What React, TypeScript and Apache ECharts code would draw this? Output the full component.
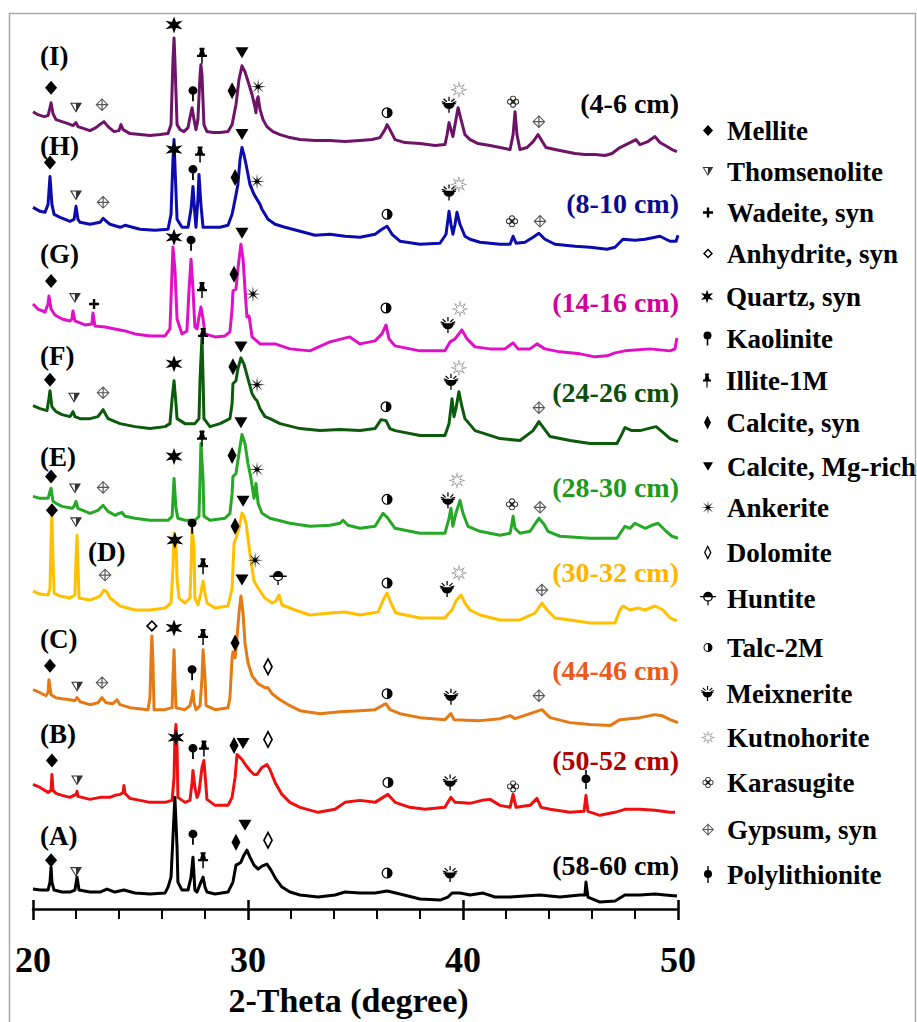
import React, { useEffect, useRef } from "react";
import * as echarts from "echarts";

type P = [number, number];

// ---------- DATA (2-Theta, intensity a.u., stacked) ----------
const traceI: P[] = [[20.00,800],[20.23,797],[20.51,795],[20.70,796],[20.79,804],[20.84,809],[20.93,798],[21.07,792],[21.35,790],[21.63,788],[21.86,786],[22.00,789],[22.09,785],[22.37,783],[22.65,781],[22.93,784],[23.16,788],[23.30,790],[23.49,785],[23.77,780],[24.00,781],[24.09,787],[24.19,782],[24.51,778],[24.98,777],[25.44,776],[25.91,777],[26.28,778],[26.42,787],[26.51,852],[26.56,874],[26.60,852],[26.70,787],[26.84,782],[27.02,780],[27.21,784],[27.30,794],[27.40,804],[27.49,792],[27.58,782],[27.67,792],[27.77,837],[27.81,847],[27.86,837],[27.95,787],[28.09,780],[28.37,779],[28.70,779],[29.07,780],[29.26,787],[29.35,797],[29.44,807],[29.58,832],[29.72,846],[29.86,840],[30.05,827],[30.19,817],[30.33,804],[30.37,799],[30.42,812],[30.47,815],[30.56,802],[30.70,792],[30.88,785],[31.16,780],[31.49,777],[31.95,774],[32.42,772],[33.12,771],[33.81,771],[34.51,770],[35.21,771],[35.77,772],[36.14,774],[36.37,782],[36.47,787],[36.60,782],[36.84,772],[37.30,769],[38.00,768],[38.70,766],[39.16,767],[39.26,777],[39.35,789],[39.44,782],[39.53,775],[39.63,787],[39.77,804],[39.91,792],[40.09,777],[40.33,772],[40.70,768],[41.26,766],[41.72,764],[42.19,762],[42.33,777],[42.42,800],[42.51,777],[42.65,762],[42.98,764],[43.26,770],[43.49,777],[43.63,772],[43.86,764],[44.28,762],[44.74,760],[45.21,758],[45.67,757],[46.14,757],[46.60,756],[46.93,758],[47.30,764],[47.77,769],[48.05,772],[48.23,767],[48.60,770],[48.93,775],[49.16,769],[49.49,765],[49.72,762],[49.95,760]];

const traceH: P[] = [[20.00,704],[20.33,700],[20.56,699],[20.70,707],[20.79,735],[20.88,707],[20.98,697],[21.26,694],[21.72,690],[21.91,692],[22.00,705],[22.09,692],[22.19,689],[22.65,687],[23.12,689],[23.26,693],[23.58,687],[24.05,684],[24.28,686],[24.98,682],[25.67,681],[26.28,682],[26.42,697],[26.51,752],[26.56,772],[26.60,747],[26.70,692],[26.93,684],[27.21,684],[27.35,702],[27.44,725],[27.53,697],[27.58,684],[27.67,712],[27.72,737],[27.81,707],[27.91,684],[28.23,684],[28.70,684],[29.07,686],[29.26,697],[29.40,712],[29.53,727],[29.63,752],[29.72,764],[29.81,757],[29.91,747],[30.09,727],[30.28,717],[30.42,712],[30.56,707],[30.65,702],[30.93,692],[31.26,687],[31.72,684],[32.42,680],[33.12,676],[33.81,677],[34.51,675],[35.21,674],[35.91,677],[36.23,682],[36.47,685],[36.70,677],[37.07,670],[38.00,667],[38.93,668],[39.21,677],[39.35,700],[39.44,687],[39.53,677],[39.63,687],[39.72,699],[39.86,687],[40.09,675],[40.33,672],[40.79,669],[41.72,667],[42.19,667],[42.33,675],[42.47,668],[42.88,669],[43.26,674],[43.53,678],[43.81,672],[44.28,667],[45.21,665],[45.91,664],[46.70,662],[47.07,664],[47.44,672],[48.00,671],[48.47,672],[49.16,675],[49.63,670],[49.91,670],[50.00,676]];

const traceG: P[] = [[20.00,607],[20.23,602],[20.56,599],[20.70,607],[20.74,615],[20.84,602],[21.02,596],[21.35,592],[21.72,590],[21.81,592],[21.86,600],[21.95,590],[22.42,586],[22.74,587],[22.79,598],[22.88,585],[23.35,584],[23.81,582],[24.28,580],[24.74,577],[25.44,575],[26.14,575],[26.37,582],[26.47,642],[26.51,664],[26.60,642],[26.70,592],[26.93,577],[27.16,580],[27.26,622],[27.35,652],[27.44,622],[27.53,584],[27.63,582],[27.72,594],[27.81,604],[27.91,592],[28.00,577],[28.47,574],[28.93,575],[29.16,579],[29.26,602],[29.30,620],[29.44,622],[29.53,642],[29.67,667],[29.77,652],[29.86,622],[29.95,594],[30.05,595],[30.19,574],[30.56,567],[31.26,567],[31.95,562],[32.88,560],[33.81,569],[34.74,574],[35.21,567],[35.91,570],[36.23,577],[36.42,586],[36.56,572],[36.84,565],[38.00,560],[39.16,560],[39.40,569],[39.63,572],[39.95,581],[40.19,572],[40.56,564],[41.26,562],[41.95,562],[42.33,568],[42.56,562],[43.12,562],[43.44,567],[43.81,562],[44.51,559],[45.44,557],[46.14,554],[46.70,555],[47.07,558],[47.53,560],[48.70,562],[49.63,560],[49.86,562],[49.95,573]];

const traceF: P[] = [[20.00,505],[20.33,502],[20.65,500],[20.74,512],[20.79,520],[20.88,504],[21.07,499],[21.35,496],[21.72,494],[21.86,499],[21.95,494],[22.19,492],[22.65,492],[23.02,494],[23.26,501],[23.49,492],[24.05,487],[24.74,484],[25.44,482],[26.14,484],[26.37,487],[26.47,512],[26.56,530],[26.65,507],[26.70,492],[27.07,487],[27.53,487],[27.72,492],[27.77,532],[27.86,574],[27.91,532],[27.95,492],[28.23,484],[28.70,487],[29.16,492],[29.26,507],[29.30,527],[29.44,530],[29.53,542],[29.67,553],[29.81,547],[30.00,532],[30.19,517],[30.33,512],[30.42,510],[30.56,502],[30.79,494],[31.02,492],[31.49,487],[32.42,482],[33.35,480],[34.28,481],[35.21,480],[35.91,482],[36.19,491],[36.42,490],[36.60,482],[36.84,480],[38.00,475],[39.16,475],[39.35,487],[39.49,512],[39.58,494],[39.67,502],[39.81,519],[39.95,504],[40.09,492],[40.56,480],[41.72,472],[42.65,470],[43.26,480],[43.53,489],[43.77,482],[44.05,474],[44.98,470],[45.91,467],[47.16,467],[47.40,477],[47.53,483],[47.86,480],[48.23,480],[48.60,482],[48.98,484],[49.26,479],[49.63,472],[50.00,469]];

const traceE: P[] = [[20.00,414],[20.33,412],[20.70,412],[20.79,419],[20.84,422],[20.93,409],[21.07,407],[21.35,404],[21.81,402],[21.91,404],[22.00,409],[22.09,402],[22.65,397],[23.02,400],[23.26,405],[23.49,399],[23.81,395],[24.00,397],[24.14,398],[24.28,394],[24.74,392],[25.44,390],[26.28,390],[26.47,394],[26.56,432],[26.65,402],[26.74,392],[27.07,390],[27.53,390],[27.72,394],[27.77,432],[27.81,467],[27.91,432],[27.95,394],[28.23,390],[28.93,392],[29.16,397],[29.26,417],[29.30,434],[29.44,437],[29.58,457],[29.72,476],[29.86,467],[30.00,447],[30.14,432],[30.28,412],[30.37,427],[30.47,407],[30.65,397],[31.02,392],[31.95,387],[32.88,384],[33.81,385],[34.28,387],[34.42,390],[34.65,385],[35.21,382],[35.91,384],[36.28,397],[36.51,392],[36.84,382],[38.00,377],[39.16,377],[39.35,392],[39.44,402],[39.53,384],[39.67,397],[39.86,410],[40.00,397],[40.23,384],[40.79,379],[41.72,375],[42.19,377],[42.28,387],[42.33,394],[42.42,382],[42.65,377],[43.12,379],[43.53,392],[43.77,386],[43.95,379],[44.51,374],[45.91,372],[47.16,372],[47.53,384],[47.77,382],[48.00,387],[48.47,382],[48.79,385],[49.07,387],[49.40,380],[49.72,374],[50.00,372]];

const traceD: P[] = [[20.00,319],[20.33,316],[20.70,315],[20.79,322],[20.84,372],[20.88,397],[20.93,352],[20.98,317],[21.26,314],[21.72,312],[21.95,315],[22.00,352],[22.05,375],[22.09,347],[22.14,312],[22.65,310],[23.12,314],[23.30,320],[23.44,318],[23.58,312],[24.05,304],[24.74,300],[25.44,300],[26.14,302],[26.42,307],[26.51,342],[26.56,377],[26.65,367],[26.70,332],[26.79,312],[27.07,307],[27.30,312],[27.35,342],[27.40,382],[27.49,362],[27.53,312],[27.67,305],[27.81,317],[27.91,329],[28.00,317],[28.09,307],[28.47,302],[29.07,304],[29.26,322],[29.35,367],[29.44,372],[29.58,382],[29.72,397],[29.81,394],[29.91,387],[30.00,372],[30.09,357],[30.19,342],[30.28,329],[30.47,322],[30.79,312],[31.12,307],[31.30,309],[31.44,315],[31.58,305],[32.19,300],[32.88,295],[33.81,297],[34.51,298],[35.21,295],[36.05,298],[36.33,312],[36.47,317],[36.65,307],[36.88,297],[38.00,292],[39.16,292],[39.35,297],[39.49,300],[39.67,309],[39.91,315],[40.09,307],[40.33,300],[40.79,295],[41.72,290],[42.65,290],[43.35,297],[43.67,307],[43.91,300],[44.28,292],[44.98,290],[45.91,287],[47.07,287],[47.30,300],[47.44,304],[47.77,300],[48.14,302],[48.47,300],[48.93,304],[49.30,300],[49.63,292],[49.95,289]];

const traceC: P[] = [[20.00,220],[20.33,217],[20.60,214],[20.70,217],[20.74,230],[20.84,215],[21.07,212],[21.35,211],[21.72,210],[21.95,209],[22.05,212],[22.19,208],[22.65,205],[23.02,207],[23.21,212],[23.40,207],[23.72,206],[23.91,210],[24.05,205],[24.51,202],[25.35,200],[25.44,212],[25.49,252],[25.53,274],[25.58,247],[25.63,200],[26.14,200],[26.47,202],[26.51,232],[26.56,260],[26.60,232],[26.65,202],[27.07,200],[27.30,204],[27.40,214],[27.44,219],[27.49,207],[27.58,200],[27.77,204],[27.86,232],[27.91,260],[28.00,232],[28.05,204],[28.47,200],[29.07,202],[29.16,212],[29.26,252],[29.30,258],[29.40,252],[29.49,272],[29.58,297],[29.67,314],[29.77,297],[29.86,267],[30.00,247],[30.19,234],[30.47,226],[30.79,222],[30.93,222],[31.12,216],[31.49,210],[31.95,204],[32.42,199],[33.35,196],[34.28,198],[35.21,199],[35.91,200],[36.23,204],[36.42,206],[36.60,200],[37.07,196],[38.00,192],[39.16,190],[39.44,196],[39.58,190],[40.79,189],[41.72,191],[42.19,194],[42.42,191],[43.12,196],[43.67,200],[44.05,192],[44.98,187],[45.91,185],[46.84,184],[47.30,190],[48.23,192],[48.93,195],[49.26,194],[49.63,190],[50.00,187]];

const traceB: P[] = [[20.00,125],[20.33,122],[20.70,117],[20.84,119],[20.88,135],[20.93,119],[21.07,116],[21.35,114],[21.72,112],[22.00,115],[22.05,118],[22.09,113],[22.65,110],[23.12,112],[23.58,112],[23.81,114],[24.05,115],[24.19,117],[24.23,124],[24.28,116],[24.51,111],[24.98,109],[25.44,107],[26.14,107],[26.47,109],[26.56,132],[26.60,172],[26.65,185],[26.70,162],[26.74,112],[27.07,107],[27.30,109],[27.40,127],[27.44,139],[27.53,122],[27.63,112],[27.72,117],[27.86,142],[27.95,149],[28.05,122],[28.09,110],[28.47,104],[29.07,104],[29.26,112],[29.40,132],[29.49,155],[29.63,152],[29.72,150],[29.91,144],[30.09,139],[30.28,135],[30.42,135],[30.65,142],[30.88,145],[31.02,140],[31.26,127],[31.58,115],[31.95,107],[32.42,102],[33.26,97],[34.05,100],[34.51,107],[35.21,109],[35.91,107],[36.28,112],[36.51,115],[36.84,107],[37.53,102],[38.23,100],[39.16,102],[39.35,109],[39.44,112],[39.63,107],[40.33,106],[40.88,109],[41.26,110],[41.72,104],[42.19,102],[42.33,115],[42.47,102],[43.12,104],[43.44,111],[43.63,102],[44.05,100],[44.98,97],[45.63,98],[45.72,114],[45.81,98],[46.37,94],[47.07,97],[47.53,100],[48.23,100],[48.93,99],[49.63,97],[49.86,97]];

const traceA: P[] = [[20.00,20],[20.33,19],[20.70,19],[20.79,27],[20.84,42],[20.88,27],[20.98,19],[21.35,17],[21.72,17],[21.95,19],[22.05,32],[22.14,19],[22.65,17],[23.12,17],[23.44,20],[23.81,17],[24.23,19],[24.74,16],[25.44,15],[26.14,16],[26.28,22],[26.42,32],[26.51,72],[26.60,112],[26.70,62],[26.74,27],[26.93,19],[27.21,19],[27.35,32],[27.44,52],[27.53,19],[27.63,17],[27.81,27],[27.91,32],[28.00,22],[28.09,17],[28.47,15],[29.07,17],[29.30,27],[29.44,44],[29.53,45],[29.67,47],[29.81,54],[29.95,59],[30.09,52],[30.28,44],[30.47,40],[30.65,43],[30.88,45],[31.07,39],[31.30,30],[31.58,22],[31.95,17],[32.42,14],[33.26,12],[34.05,14],[34.51,17],[35.21,16],[35.91,16],[36.47,18],[37.07,15],[38.00,10],[38.93,9],[39.30,12],[39.49,16],[39.86,16],[40.33,14],[40.93,16],[41.49,12],[42.19,12],[42.88,13],[43.58,14],[44.51,12],[45.44,14],[45.67,14],[45.72,27],[45.81,12],[46.37,7],[47.07,8],[47.53,14],[48.23,14],[48.93,15],[49.40,14],[49.95,13]];

const sampleIds = ["(I)", "(H)", "(G)", "(F)", "(E)", "(D)", "(C)", "(B)", "(A)"];
const depthLabels = ["(4-6 cm)", "(8-10 cm)", "(14-16 cm)", "(24-26 cm)", "(28-30 cm)", "(30-32 cm)", "(44-46 cm)", "(50-52 cm)", "(58-60 cm)"];
const traces = [traceI, traceH, traceG, traceF, traceE, traceD, traceC, traceB, traceA];

// mineral peak marks (2-Theta, height)
const mellite: P[] = [[20.84,824],[20.79,749],[20.84,630],[20.79,531],[20.84,434],[20.88,400],[20.79,244],[20.88,149],[20.84,49]];
const thomsenolite: P[] = [[22.00,804],[22.00,716],[21.95,613],[21.91,513],[21.95,422],[22.00,388],[22.05,223],[22.05,129],[22.00,37]];
const wadeite: P[] = [[22.84,607]];
const anhydrite: P[] = [[25.53,284]];
const quartz: P[] = [[26.56,887],[26.56,762],[26.56,674],[26.56,547],[26.56,454],[26.60,370],[26.56,282],[26.65,172]];
const kaolinite: P[] = [[27.44,818],[27.44,739],[27.35,668],[27.40,384],[27.40,237],[27.44,158],[27.44,72]];
const illite: P[] = [[27.86,856],[27.77,757],[27.86,621],[27.91,575],[27.86,472],[27.91,344],[27.91,273],[27.95,161],[27.91,49]];
const calciteSyn: P[] = [[29.26,821],[29.40,734],[29.35,637],[29.30,544],[29.26,455],[29.40,384],[29.40,267],[29.35,164],[29.44,67]];
const calciteMg: P[] = [[29.72,859],[29.72,777],[29.72,678],[29.67,564],[29.67,488],[29.77,409],[29.72,330],[29.77,166],[29.86,84]];
const ankerite: P[] = [[30.47,825],[30.42,730],[30.23,617],[30.42,526],[30.42,441],[30.33,350]];
const dolomite: P[] = [[30.93,243],[30.93,170],[30.93,69]];
const huntite: P[] = [[31.40,332]];
const talc: P[] = [[36.47,799],[36.47,697],[36.42,603],[36.42,504],[36.47,411],[36.47,327],[36.47,216],[36.51,127],[36.47,36]];
const meixnerite: P[] = [[39.35,807],[39.35,719],[39.30,586],[39.44,529],[39.30,410],[39.26,321],[39.44,213],[39.40,127],[39.40,35]];
const kutnohorite: P[] = [[39.81,822],[39.81,727],[39.86,602],[39.81,543],[39.72,430],[39.81,337]];
const karasugite: P[] = [[42.33,810],[42.28,690],[42.28,406],[42.33,123]];
const gypsum: P[] = [[23.21,807],[43.53,790],[23.26,709],[43.58,690],[23.26,518],[43.53,503],[23.26,423],[43.58,403],[23.35,335],[43.67,320],[23.21,227],[43.53,214]];
const polylithionite: P[] = [[45.72,130]];

const mineralNames = ["Mellite", "Thomsenolite", "Wadeite, syn", "Anhydrite, syn", "Quartz, syn", "Kaolinite", "Illite-1M", "Calcite, syn", "Calcite, Mg-rich", "Ankerite", "Dolomite", "Huntite", "Talc-2M", "Meixnerite", "Kutnohorite", "Karasugite", "Gypsum, syn", "Polylithionite"];
const mineralPeaks = [mellite, thomsenolite, wadeite, anhydrite, quartz, kaolinite, illite, calciteSyn, calciteMg, ankerite, dolomite, huntite, talc, meixnerite, kutnohorite, karasugite, gypsum, polylithionite];

// ---------- STYLE / LAYOUT ----------
const traceColors = ["#6E1468", "#0B0BB0", "#E010C8", "#0C5A0C", "#25A825", "#FFC000", "#E57A15", "#EE1010", "#000000"];
const depthColors = ["#000000", "#0A0A90", "#D0009A", "#0B4F0B", "#1E9A1E", "#FFB400", "#EC5A1C", "#B00000", "#000000"];
const idPos: P[] = [[40, 57], [40, 147], [40, 255], [40, 357], [40, 458], [88, 553], [40, 640], [40, 735], [40, 837]];
const depthY = [103, 203, 302, 392, 487, 572, 670, 760, 865];
const legendY = [131, 172, 213, 254, 297, 339, 381, 423, 467, 508, 553, 599, 648, 694, 738, 783, 830, 875];

const f = (n: number) => +n.toFixed(2);
function poly(pts: number[][]) {
  return pts.map((p, i) => (i ? "L" : "M") + f(p[0]) + "," + f(p[1])).join("") + "Z";
}
function circ(cx: number, cy: number, r: number, cw = true) {
  const s = cw ? 1 : 0;
  return `M${cx - r},${cy}A${r},${r} 0 1 ${s} ${cx + r},${cy}A${r},${r} 0 1 ${s} ${cx - r},${cy}Z`;
}
function rect(x1: number, y1: number, x2: number, y2: number) {
  return `M${x1},${y1}H${x2}V${y2}H${x1}Z`;
}
function star(n: number, R: number, r: number, cx: number, cy: number, reverse = false) {
  const pts: number[][] = [];
  for (let i = 0; i < 2 * n; i++) {
    const a = ((-90 + (i * 180) / n) * Math.PI) / 180;
    const rad = i % 2 ? r : R;
    pts.push([cx + rad * Math.cos(a), cy + rad * Math.sin(a)]);
  }
  if (reverse) pts.reverse();
  return poly(pts);
}
function ray(cx: number, cy: number, deg: number, r1: number, r2: number, w: number) {
  const a = (deg * Math.PI) / 180;
  const ux = Math.cos(a), uy = Math.sin(a);
  const nx = uy, ny = -ux;
  return poly([
    [cx + r1 * ux + w * nx, cy + r1 * uy + w * ny],
    [cx + r2 * ux + w * nx, cy + r2 * uy + w * ny],
    [cx + r2 * ux - w * nx, cy + r2 * uy - w * ny],
    [cx + r1 * ux - w * nx, cy + r1 * uy - w * ny],
  ]);
}

const symbols: { symbol: string; size: number[]; icon: number[]; color: string }[] = [
  { symbol: "diamond", size: [12, 14], icon: [10, 11], color: "#000" },
  { symbol: "path://" + poly([[0, 0], [12, 0], [6, 10]]) + poly([[1.9, 1.1], [6, 8], [10.1, 1.1]]) + poly([[6, 1.1], [10.1, 1.1], [6, 8]]), size: [12, 10], icon: [11, 9], color: "#333" },
  { symbol: "path://" + poly([[3.8, 0], [6.2, 0], [6.2, 3.8], [10, 3.8], [10, 6.2], [6.2, 6.2], [6.2, 10], [3.8, 10], [3.8, 6.2], [0, 6.2], [0, 3.8], [3.8, 3.8]]), size: [10, 10], icon: [10, 10], color: "#000" },
  { symbol: "path://" + poly([[6, 0], [12, 6], [6, 12], [0, 6]]) + poly([[6, 2.4], [2.4, 6], [6, 9.6], [9.6, 6]]), size: [12, 12], icon: [10, 10], color: "#000" },
  { symbol: "path://" + star(6, 7, 2.8, 7, 7), size: [17, 17], icon: [14, 14], color: "#000" },
  { symbol: "path://" + circ(5, 4, 4) + rect(4.2, 7, 5.8, 14), size: [9, 15], icon: [9, 14], color: "#000" },
  { symbol: "path://" + poly([[3, 0], [7, 0], [7, 1.8], [6.4, 1.8], [7.4, 6], [9, 6], [9, 8], [5.6, 8], [5.6, 14], [4.4, 14], [4.4, 8], [1, 8], [1, 6], [2.6, 6], [3.6, 1.8], [3, 1.8]]), size: [10, 16], icon: [10, 14], color: "#000" },
  { symbol: "path://" + poly([[4, 0], [8, 8], [4, 16], [0, 8]]), size: [9, 17], icon: [8, 14], color: "#000" },
  { symbol: "path://" + poly([[0, 0], [12, 0], [6, 10]]), size: [13, 11], icon: [10, 9], color: "#000" },
  { symbol: "path://" + star(8, 7.5, 1.6, 7.5, 7.5), size: [16, 16], icon: [14, 14], color: "#000" },
  { symbol: "path://" + poly([[4.5, 0], [9, 9], [4.5, 18], [0, 9]]) + poly([[4.5, 3.3], [1.7, 9], [4.5, 14.7], [7.3, 9]]), size: [10, 19], icon: [8, 15], color: "#000" },
  { symbol: "path://" + circ(8, 6, 4.6) + circ(8, 6, 3.4, false) + "M4.6,6A3.4,3.4 0 0 1 11.4,6Z" + rect(0.5, 5.4, 15.5, 6.6) + rect(7.4, 10.4, 8.6, 14), size: [17, 14], icon: [16, 14], color: "#000" },
  { symbol: "path://" + circ(5, 5, 5) + circ(5, 5, 3.9, false) + "M5,1.1A3.9,3.9 0 0 1 5,8.9Z", size: [11, 11], icon: [9, 9], color: "#000" },
  { symbol: "path://" + "M12,7A5,5 0 0 1 2,7Z" + rect(1, 6.2, 13, 7.4) + ray(7, 7, -90, 2.8, 6.8, 0.55) + ray(7, 7, -135, 2.8, 6.8, 0.55) + ray(7, 7, -45, 2.8, 6.8, 0.55) + ray(7, 7, -162, 3.4, 6.8, 0.55) + ray(7, 7, -18, 3.4, 6.8, 0.55) + rect(6.4, 11.5, 7.6, 15.5), size: [15, 16], icon: [14, 15], color: "#000" },
  { symbol: "path://" + star(8, 7.5, 3.2, 7.5, 7.5) + star(8, 6.0, 2.1, 7.5, 7.5, true), size: [17, 17], icon: [14, 14], color: "#808080" },
  { symbol: "path://" + circ(5.5, 2.7, 2.7) + circ(5.5, 2.7, 1.9, false) + circ(8.3, 5.5, 2.7) + circ(8.3, 5.5, 1.9, false) + circ(5.5, 8.3, 2.7) + circ(5.5, 8.3, 1.9, false) + circ(2.7, 5.5, 2.7) + circ(2.7, 5.5, 1.9, false) + poly([[5.5, 3.7], [7.3, 5.5], [5.5, 7.3], [3.7, 5.5]]), size: [12, 12], icon: [11, 11], color: "#222" },
  { symbol: "path://" + poly([[6, 0], [12, 6], [6, 12], [0, 6]]) + poly([[6, 1.3], [1.3, 6], [6, 10.7], [10.7, 6]]) + rect(5.45, 0.6, 6.55, 11.4) + rect(0.6, 5.45, 11.4, 6.55), size: [13, 13], icon: [12, 12], color: "#555" },
  { symbol: "path://" + circ(4, 8, 4) + rect(3.3, 0, 4.7, 17), size: [9, 19], icon: [8, 17], color: "#000" },
];

const FONT = '"Liberation Serif", "Times New Roman", serif';

export default function App() {
  const ref = useRef<HTMLDivElement>(null);
  useEffect(() => {
    document.body.style.margin = "0";
    if (!ref.current) return;
    const chart = echarts.init(ref.current, null, { renderer: "svg" });

    const lineSeries = traces.map((data, i) => ({
      type: "line",
      name: sampleIds[i] + " " + depthLabels[i],
      data,
      showSymbol: false,
      symbol: "none",
      lineStyle: { color: traceColors[i], width: 3, join: "round" },
      itemStyle: { color: traceColors[i] },
      z: 2,
      silent: true,
    }));

    const markerSeries = mineralNames.map((name, k) => ({
      type: "scatter",
      name,
      data: mineralPeaks[k],
      symbol: symbols[k].symbol,
      symbolSize: symbols[k].size,
      symbolKeepAspect: false,
      itemStyle: { color: symbols[k].color, opacity: 1 },
      z: 5,
      silent: true,
    }));

    const legends = mineralNames.map((name, k) => {
      const iw = symbols[k].icon[0];
      const ih = symbols[k].icon[1];
      return {
        data: [{ name, icon: symbols[k].symbol }],
        orient: "vertical",
        left: 708 - iw / 2,
        top: legendY[k] - 14,
        padding: 0,
        itemWidth: iw,
        itemHeight: ih,
        selectedMode: false,
        textStyle: {
          fontFamily: FONT,
          fontWeight: "bold",
          fontSize: 27,
          color: "#000",
          padding: [0, 0, 0, 14 - iw / 2],
        },
      };
    });

    const texts: any[] = [];
    sampleIds.forEach((t, i) => {
      texts.push({
        type: "text",
        left: idPos[i][0],
        top: idPos[i][1] - 15,
        style: { text: t, fill: "#000", font: `bold 27px ${FONT}` },
        z: 10,
      });
      texts.push({
        type: "text",
        x: 679,
        y: depthY[i],
        style: {
          text: depthLabels[i],
          fill: depthColors[i],
          font: `bold 28px ${FONT}`,
          align: "right",
          textAlign: "right",
          verticalAlign: "middle",
          textVerticalAlign: "middle",
        },
        z: 10,
      });
    });
    texts.push({
      type: "rect",
      shape: { x: 9.5, y: 13.5, width: 906, height: 1020 },
      style: { fill: "none", stroke: "#A8A8A8", lineWidth: 1.5 },
      z: 0,
      silent: true,
    });

    chart.setOption({
      animation: false,
      textStyle: { fontFamily: FONT },
      grid: { left: 33, right: 239, top: 13, bottom: 110, containLabel: false },
      xAxis: [
        {
          type: "value",
          min: 20,
          max: 50,
          interval: 10,
          position: "bottom",
          name: "2-Theta (degree)",
          nameLocation: "middle",
          nameGap: 74,
          nameTextStyle: { fontFamily: FONT, fontWeight: "bold", fontSize: 34, color: "#000", padding: [0, 14, 0, 0] },
          axisLine: { show: true, lineStyle: { color: "#000", width: 2.5 } },
          axisTick: { show: true, length: 11, lineStyle: { color: "#000", width: 2.5 } },
          minorTick: { show: true, splitNumber: 5, length: 10, lineStyle: { color: "#000", width: 2 } },
          axisLabel: { show: true, margin: 33, fontFamily: FONT, fontWeight: "bold", fontSize: 36, color: "#000" },
          splitLine: { show: false },
          minorSplitLine: { show: false },
        },
        {
          type: "value",
          min: 20,
          max: 50,
          interval: 10,
          position: "bottom",
          gridIndex: 0,
          axisLine: { show: false },
          axisTick: { show: true, inside: true, length: 9, lineStyle: { color: "#000", width: 2.5 } },
          axisLabel: { show: false },
          splitLine: { show: false },
        },
      ],
      yAxis: { type: "value", min: 0, max: 899, show: false, splitLine: { show: false } },
      legend: legends,
      series: [...lineSeries, ...markerSeries],
      graphic: texts,
    });
    return () => chart.dispose();
  }, []);
  return <div ref={ref} style={{ width: 917, height: 1022 }} />;
}
